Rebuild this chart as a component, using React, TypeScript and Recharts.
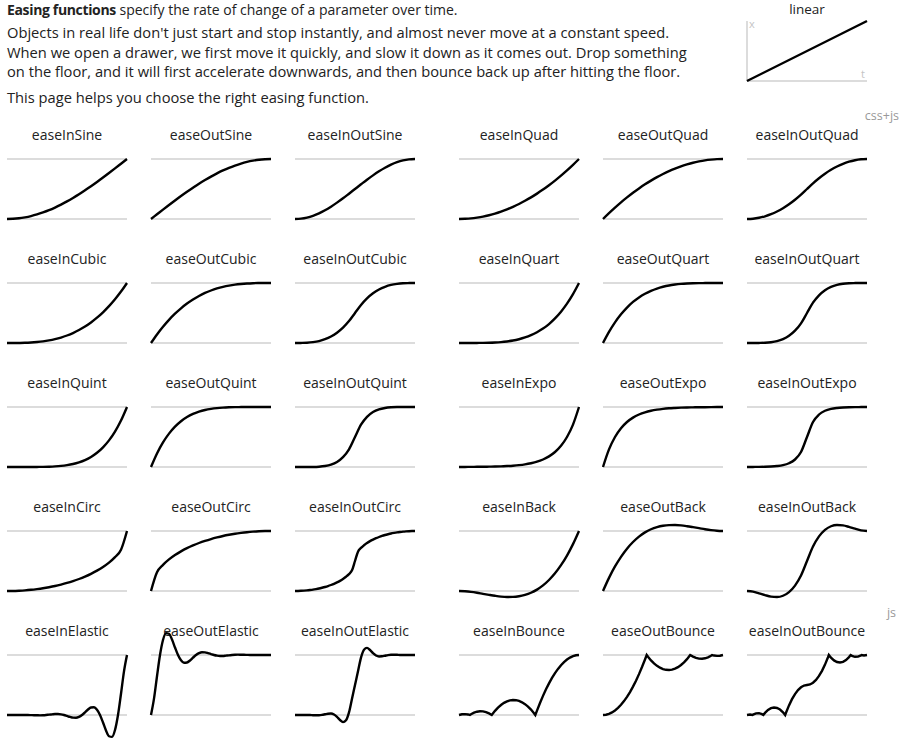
import React from 'react';
import { LineChart, Line, XAxis, YAxis, CartesianGrid, ReferenceLine } from 'recharts';

// sample positions along the time axis (0..1)
const T21 = [0, 0.05, 0.1, 0.15, 0.2, 0.25, 0.3, 0.35, 0.4, 0.45, 0.5, 0.55, 0.6, 0.65, 0.7, 0.75, 0.8, 0.85, 0.9, 0.95, 1];
const T41 = [
  0, 0.025, 0.05, 0.075, 0.1, 0.125, 0.15, 0.175, 0.2, 0.225, 0.25, 0.275, 0.3, 0.325, 0.35, 0.375, 0.4, 0.425, 0.45, 0.475, 0.5,
  0.525, 0.55, 0.575, 0.6, 0.625, 0.65, 0.675, 0.7, 0.725, 0.75, 0.775, 0.8, 0.825, 0.85, 0.875, 0.9, 0.925, 0.95, 0.975, 1,
];
const bounceOutT = [
  0, 0.025, 0.05, 0.075, 0.1, 0.125, 0.15, 0.175, 0.2, 0.225, 0.25, 0.275, 0.3, 0.325, 0.35, 0.364, 0.375, 0.4, 0.425, 0.45, 0.475, 0.5,
  0.525, 0.55, 0.575, 0.6, 0.625, 0.65, 0.675, 0.7, 0.725, 0.727, 0.75, 0.775, 0.8, 0.825, 0.85, 0.875, 0.9, 0.909, 0.925, 0.95, 0.975, 1,
];
const bounceInT = [
  0, 0.025, 0.05, 0.075, 0.091, 0.1, 0.125, 0.15, 0.175, 0.2, 0.225, 0.25, 0.273, 0.3, 0.325, 0.35, 0.375, 0.4, 0.425, 0.45, 0.475, 0.5,
  0.525, 0.55, 0.575, 0.6, 0.625, 0.636, 0.65, 0.675, 0.7, 0.725, 0.75, 0.775, 0.8, 0.825, 0.85, 0.875, 0.9, 0.925, 0.95, 0.975, 1,
];
const bounceInOutT = [
  0, 0.025, 0.045, 0.05, 0.075, 0.1, 0.125, 0.136, 0.15, 0.175, 0.2, 0.225, 0.25, 0.275, 0.3, 0.318, 0.325, 0.35, 0.375, 0.4, 0.425, 0.45,
  0.475, 0.5, 0.525, 0.55, 0.575, 0.6, 0.625, 0.65, 0.675, 0.682, 0.7, 0.725, 0.75, 0.775, 0.8, 0.825, 0.85, 0.864, 0.875, 0.9, 0.925,
  0.95, 0.955, 0.975, 1,
];

// values
const linearT = [0, 1];
const linear = [0, 1];

const easeInSine = [0, 0.003, 0.012, 0.028, 0.049, 0.076, 0.109, 0.147, 0.191, 0.24, 0.293, 0.351, 0.412, 0.478, 0.546, 0.617, 0.691, 0.767, 0.844, 0.922, 1];
const easeOutSine = [0, 0.078, 0.156, 0.233, 0.309, 0.383, 0.454, 0.522, 0.588, 0.649, 0.707, 0.76, 0.809, 0.853, 0.891, 0.924, 0.951, 0.972, 0.988, 0.997, 1];
const easeInOutSine = [0, 0.006, 0.024, 0.054, 0.095, 0.146, 0.206, 0.273, 0.345, 0.422, 0.5, 0.578, 0.655, 0.727, 0.794, 0.854, 0.905, 0.946, 0.976, 0.994, 1];
const easeInQuad = [0, 0.003, 0.01, 0.023, 0.04, 0.063, 0.09, 0.123, 0.16, 0.203, 0.25, 0.303, 0.36, 0.423, 0.49, 0.563, 0.64, 0.723, 0.81, 0.903, 1];
const easeOutQuad = [0, 0.098, 0.19, 0.278, 0.36, 0.438, 0.51, 0.578, 0.64, 0.698, 0.75, 0.798, 0.84, 0.878, 0.91, 0.938, 0.96, 0.978, 0.99, 0.998, 1];
const easeInOutQuad = [0, 0.005, 0.02, 0.045, 0.08, 0.125, 0.18, 0.245, 0.32, 0.405, 0.5, 0.595, 0.68, 0.755, 0.82, 0.875, 0.92, 0.955, 0.98, 0.995, 1];
const easeInCubic = [0, 0, 0.001, 0.003, 0.008, 0.016, 0.027, 0.043, 0.064, 0.091, 0.125, 0.166, 0.216, 0.275, 0.343, 0.422, 0.512, 0.614, 0.729, 0.857, 1];
const easeOutCubic = [0, 0.143, 0.271, 0.386, 0.488, 0.578, 0.657, 0.725, 0.784, 0.834, 0.875, 0.909, 0.936, 0.957, 0.973, 0.984, 0.992, 0.997, 0.999, 1, 1];
const easeInOutCubic = [0, 0.001, 0.004, 0.014, 0.032, 0.063, 0.108, 0.172, 0.256, 0.365, 0.5, 0.635, 0.744, 0.828, 0.892, 0.937, 0.968, 0.986, 0.996, 0.999, 1];
const easeInQuart = [0, 0, 0, 0.001, 0.002, 0.004, 0.008, 0.015, 0.026, 0.041, 0.063, 0.092, 0.13, 0.179, 0.24, 0.316, 0.41, 0.522, 0.656, 0.815, 1];
const easeOutQuart = [0, 0.185, 0.344, 0.478, 0.59, 0.684, 0.76, 0.821, 0.87, 0.908, 0.937, 0.959, 0.974, 0.985, 0.992, 0.996, 0.998, 0.999, 1, 1, 1];
const easeInOutQuart = [0, 0, 0.001, 0.004, 0.013, 0.031, 0.065, 0.12, 0.205, 0.328, 0.5, 0.672, 0.795, 0.88, 0.935, 0.969, 0.987, 0.996, 0.999, 1, 1];
const easeInQuint = [0, 0, 0, 0, 0, 0.001, 0.002, 0.005, 0.01, 0.018, 0.031, 0.05, 0.078, 0.116, 0.168, 0.237, 0.328, 0.444, 0.59, 0.774, 1];
const easeOutQuint = [0, 0.226, 0.41, 0.556, 0.672, 0.763, 0.832, 0.884, 0.922, 0.95, 0.969, 0.982, 0.99, 0.995, 0.998, 0.999, 1, 1, 1, 1, 1];
const easeInOutQuint = [0, 0, 0, 0.001, 0.005, 0.016, 0.039, 0.084, 0.164, 0.295, 0.5, 0.705, 0.836, 0.916, 0.961, 0.984, 0.995, 0.999, 1, 1, 1];
const easeInExpo = [0, 0.001, 0.002, 0.003, 0.004, 0.006, 0.008, 0.011, 0.016, 0.022, 0.031, 0.044, 0.063, 0.088, 0.125, 0.177, 0.25, 0.354, 0.5, 0.707, 1];
const easeOutExpo = [0, 0.293, 0.5, 0.646, 0.75, 0.823, 0.875, 0.912, 0.938, 0.956, 0.969, 0.978, 0.984, 0.989, 0.992, 0.994, 0.996, 0.997, 0.998, 0.999, 1];
const easeInOutExpo = [0, 0.001, 0.002, 0.004, 0.008, 0.016, 0.031, 0.063, 0.125, 0.25, 0.5, 0.75, 0.875, 0.938, 0.969, 0.984, 0.992, 0.996, 0.998, 0.999, 1];
const easeInCirc = [0, 0.001, 0.005, 0.011, 0.02, 0.032, 0.046, 0.063, 0.083, 0.107, 0.134, 0.165, 0.2, 0.24, 0.286, 0.339, 0.4, 0.473, 0.564, 0.688, 1];
const easeOutCirc = [0, 0.312, 0.436, 0.527, 0.6, 0.661, 0.714, 0.76, 0.8, 0.835, 0.866, 0.893, 0.917, 0.937, 0.954, 0.968, 0.98, 0.989, 0.995, 0.999, 1];
const easeInOutCirc = [
  0, 0.001, 0.003, 0.006, 0.01, 0.016, 0.023, 0.032, 0.042, 0.054, 0.067, 0.082, 0.1, 0.12, 0.143, 0.169, 0.2, 0.237, 0.282, 0.344, 0.5,
  0.656, 0.718, 0.763, 0.8, 0.831, 0.857, 0.88, 0.9, 0.918, 0.933, 0.946, 0.958, 0.968, 0.977, 0.984, 0.99, 0.994, 0.997, 0.999, 1,
];
const easeInBack = [0, -0.004, -0.014, -0.029, -0.047, -0.064, -0.08, -0.093, -0.099, -0.098, -0.088, -0.065, -0.029, 0.023, 0.093, 0.183, 0.294, 0.43, 0.591, 0.781, 1];
const easeOutBack = [0, 0.219, 0.409, 0.57, 0.706, 0.817, 0.907, 0.977, 1.029, 1.065, 1.088, 1.098, 1.099, 1.093, 1.08, 1.064, 1.047, 1.029, 1.014, 1.004, 1];
const easeInOutBack = [0, -0.011, -0.038, -0.068, -0.093, -0.1, -0.079, -0.019, 0.09, 0.259, 0.5, 0.741, 0.91, 1.019, 1.079, 1.1, 1.093, 1.068, 1.038, 1.011, 1];
const easeInElastic = [
  0, 0, 0, 0, 0, 0, 0.001, 0, -0.002, -0.004, -0.005, -0.006, -0.004, 0, 0.006, 0.011, 0.016, 0.016, 0.011, 0, -0.016,
  -0.032, -0.044, -0.046, -0.031, 0, 0.044, 0.091, 0.125, 0.129, 0.088, 0, -0.125, -0.258, -0.354, -0.364, -0.25, 0, 0.354, 0.728, 1,
];
const easeOutElastic = [
  0, 0.272, 0.646, 1, 1.25, 1.364, 1.354, 1.258, 1.125, 1, 0.912, 0.871, 0.875, 0.909, 0.956, 1, 1.031, 1.046, 1.044, 1.032, 1.016,
  1, 0.989, 0.984, 0.984, 0.989, 0.994, 1, 1.004, 1.006, 1.005, 1.004, 1.002, 1, 0.999, 1, 1, 1, 1, 1, 1,
];
const easeInOutElastic = [
  0, 0, 0, 0, 0, 0, -0.004, -0.005, -0.004, 0.002, 0.012, 0.022, 0.024, 0.008, -0.031, -0.083, -0.118, -0.088, 0.043, 0.271, 0.5,
  0.729, 0.957, 1.088, 1.118, 1.083, 1.031, 0.992, 0.976, 0.978, 0.988, 0.998, 1.004, 1.005, 1.004, 1, 1, 1, 1, 1, 1,
];
const easeInBounce = [
  0, 0.012, 0.015, 0.009, 0, 0.012, 0.038, 0.055, 0.062, 0.06, 0.048, 0.027, 0, 0.069, 0.123, 0.167, 0.202, 0.227, 0.243, 0.25, 0.247,
  0.234, 0.212, 0.181, 0.14, 0.09, 0.03, 0, 0.074, 0.201, 0.319, 0.428, 0.527, 0.617, 0.697, 0.768, 0.83, 0.882, 0.924, 0.957, 0.981, 0.995, 1,
];
const easeOutBounce = [
  0, 0.005, 0.019, 0.043, 0.076, 0.118, 0.17, 0.232, 0.303, 0.383, 0.473, 0.572, 0.681, 0.799, 0.926, 1, 0.97, 0.91, 0.86, 0.819, 0.788,
  0.766, 0.753, 0.75, 0.757, 0.773, 0.798, 0.833, 0.877, 0.931, 0.994, 1, 0.973, 0.952, 0.94, 0.938, 0.945, 0.962, 0.988, 1, 0.991, 0.985, 0.988, 1,
];
const easeInOutBounce = [
  0, 0.008, 0, 0.006, 0.028, 0.03, 0.014, 0, 0.035, 0.084, 0.114, 0.125, 0.117, 0.091, 0.045, 0, 0.037, 0.16, 0.264, 0.349, 0.415, 0.462,
  0.491, 0.5, 0.509, 0.538, 0.585, 0.651, 0.736, 0.84, 0.963, 1, 0.955, 0.91, 0.883, 0.875, 0.886, 0.916, 0.965, 1, 0.986, 0.97, 0.972,
  0.994, 1, 0.992, 1,
];

const COL_X = [7, 151, 295, 459, 603, 747];
const FONT = '"Open Sans", "Noto Sans", sans-serif';

type Curve = 'monotone' | 'linear';

const panels: { name: string; t: number[]; v: number[]; curve: Curve }[][] = [
  [
    { name: 'easeInSine', t: T21, v: easeInSine, curve: 'monotone' },
    { name: 'easeOutSine', t: T21, v: easeOutSine, curve: 'monotone' },
    { name: 'easeInOutSine', t: T21, v: easeInOutSine, curve: 'monotone' },
    { name: 'easeInQuad', t: T21, v: easeInQuad, curve: 'monotone' },
    { name: 'easeOutQuad', t: T21, v: easeOutQuad, curve: 'monotone' },
    { name: 'easeInOutQuad', t: T21, v: easeInOutQuad, curve: 'monotone' },
  ],
  [
    { name: 'easeInCubic', t: T21, v: easeInCubic, curve: 'monotone' },
    { name: 'easeOutCubic', t: T21, v: easeOutCubic, curve: 'monotone' },
    { name: 'easeInOutCubic', t: T21, v: easeInOutCubic, curve: 'monotone' },
    { name: 'easeInQuart', t: T21, v: easeInQuart, curve: 'monotone' },
    { name: 'easeOutQuart', t: T21, v: easeOutQuart, curve: 'monotone' },
    { name: 'easeInOutQuart', t: T21, v: easeInOutQuart, curve: 'monotone' },
  ],
  [
    { name: 'easeInQuint', t: T21, v: easeInQuint, curve: 'monotone' },
    { name: 'easeOutQuint', t: T21, v: easeOutQuint, curve: 'monotone' },
    { name: 'easeInOutQuint', t: T21, v: easeInOutQuint, curve: 'monotone' },
    { name: 'easeInExpo', t: T21, v: easeInExpo, curve: 'monotone' },
    { name: 'easeOutExpo', t: T21, v: easeOutExpo, curve: 'monotone' },
    { name: 'easeInOutExpo', t: T21, v: easeInOutExpo, curve: 'monotone' },
  ],
  [
    { name: 'easeInCirc', t: T21, v: easeInCirc, curve: 'monotone' },
    { name: 'easeOutCirc', t: T21, v: easeOutCirc, curve: 'monotone' },
    { name: 'easeInOutCirc', t: T41, v: easeInOutCirc, curve: 'monotone' },
    { name: 'easeInBack', t: T21, v: easeInBack, curve: 'monotone' },
    { name: 'easeOutBack', t: T21, v: easeOutBack, curve: 'monotone' },
    { name: 'easeInOutBack', t: T21, v: easeInOutBack, curve: 'monotone' },
  ],
  [
    { name: 'easeInElastic', t: T41, v: easeInElastic, curve: 'monotone' },
    { name: 'easeOutElastic', t: T41, v: easeOutElastic, curve: 'monotone' },
    { name: 'easeInOutElastic', t: T41, v: easeInOutElastic, curve: 'monotone' },
    { name: 'easeInBounce', t: bounceInT, v: easeInBounce, curve: 'linear' },
    { name: 'easeOutBounce', t: bounceOutT, v: easeOutBounce, curve: 'linear' },
    { name: 'easeInOutBounce', t: bounceInOutT, v: easeInOutBounce, curve: 'linear' },
  ],
];

const toData = (t: number[], v: number[]) => t.map((x, i) => ({ t: x, v: v[i] }));

const Mini = ({ name, t, v, curve, row, col }: { name: string; t: number[]; v: number[]; curve: Curve; row: number; col: number }) => {
  const left = COL_X[col];
  const top = 129 + row * 124;
  return (
    <>
      <div
        style={{
          position: 'absolute', left: left - 12, width: 144, top: top - 1.7, textAlign: 'center',
          fontFamily: FONT, fontSize: 14, lineHeight: '16px', color: '#222',
        }}
      >
        {name}
      </div>
      <div style={{ position: 'absolute', left: left - 3, top }}>
        <LineChart width={126} height={120} data={toData(t, v)} margin={{ top: 0, right: 3, bottom: 0, left: 3 }}>
          <CartesianGrid vertical={false} horizontalValues={[0, 1]} stroke="#dcdcdc" strokeWidth={2} />
          <XAxis type="number" dataKey="t" domain={[0, 1]} hide />
          <YAxis type="number" domain={[-0.5, 1.5]} hide />
          <Line dataKey="v" type={curve} stroke="#000" strokeWidth={2.4} dot={false} isAnimationActive={false} />
        </LineChart>
      </div>
    </>
  );
};

const headerLine = (top: number, size = 14.7, lh = 20): React.CSSProperties => ({
  position: 'absolute', left: 7, top, whiteSpace: 'nowrap',
  fontFamily: FONT, fontSize: size, lineHeight: `${lh}px`, color: '#222',
});

export default function App() {
  return (
    <div style={{ position: 'absolute', left: 0, top: 0, width: 915, height: 746, background: '#fff', overflow: 'hidden' }}>
      <div style={headerLine(0, 14, 20)}>
        <b style={{ letterSpacing: -0.35 }}>Easing functions</b> specify the rate of change of a parameter over time.
      </div>
      <div style={headerLine(22)}>
        Objects in real life don't just start and stop instantly, and almost never move at a constant speed.
      </div>
      <div style={headerLine(41.6)}>
        When we open a drawer, we first move it quickly, and slow it down as it comes out. Drop something
      </div>
      <div style={headerLine(61.3)}>
        on the floor, and it will first accelerate downwards, and then bounce back up after hitting the floor.
      </div>
      <div style={headerLine(86.6)}>This page helps you choose the right easing function.</div>

      {/* linear reference chart */}
      <div
        style={{
          position: 'absolute', left: 707, width: 200, top: 0, textAlign: 'center',
          fontFamily: FONT, fontSize: 13.5, lineHeight: '19px', color: '#222',
        }}
      >
        linear
      </div>
      <div style={{ position: 'absolute', left: 744, top: 18 }}>
        <LineChart width={126} height={66} data={toData(linearT, linear)} margin={{ top: 3, right: 3, bottom: 3, left: 3 }}>
          <XAxis type="number" dataKey="t" domain={[0, 1]} hide />
          <YAxis type="number" domain={[0, 1]} hide />
          <ReferenceLine x={0} stroke="#dcdcdc" strokeWidth={2} />
          <ReferenceLine y={0} stroke="#dcdcdc" strokeWidth={2} />
          <Line dataKey="v" type="linear" stroke="#000" strokeWidth={2.4} dot={false} isAnimationActive={false} />
        </LineChart>
      </div>
      <div style={{ position: 'absolute', left: 749, top: 17, fontFamily: FONT, fontSize: 11, lineHeight: '14px', color: '#c4c4c4' }}>x</div>
      <div style={{ position: 'absolute', left: 861, top: 67, fontFamily: FONT, fontSize: 11, lineHeight: '14px', color: '#c4c4c4' }}>t</div>

      <div style={{ position: 'absolute', right: 915 - 899, top: 109, fontFamily: FONT, fontSize: 12.5, lineHeight: '14px', color: '#999' }}>
        css+js
      </div>
      <div style={{ position: 'absolute', right: 915 - 896, top: 606, fontFamily: FONT, fontSize: 12.5, lineHeight: '14px', color: '#999' }}>
        js
      </div>

      {panels.map((row, r) =>
        row.map((p, c) => <Mini key={p.name} name={p.name} t={p.t} v={p.v} curve={p.curve} row={r} col={c} />),
      )}
    </div>
  );
}
